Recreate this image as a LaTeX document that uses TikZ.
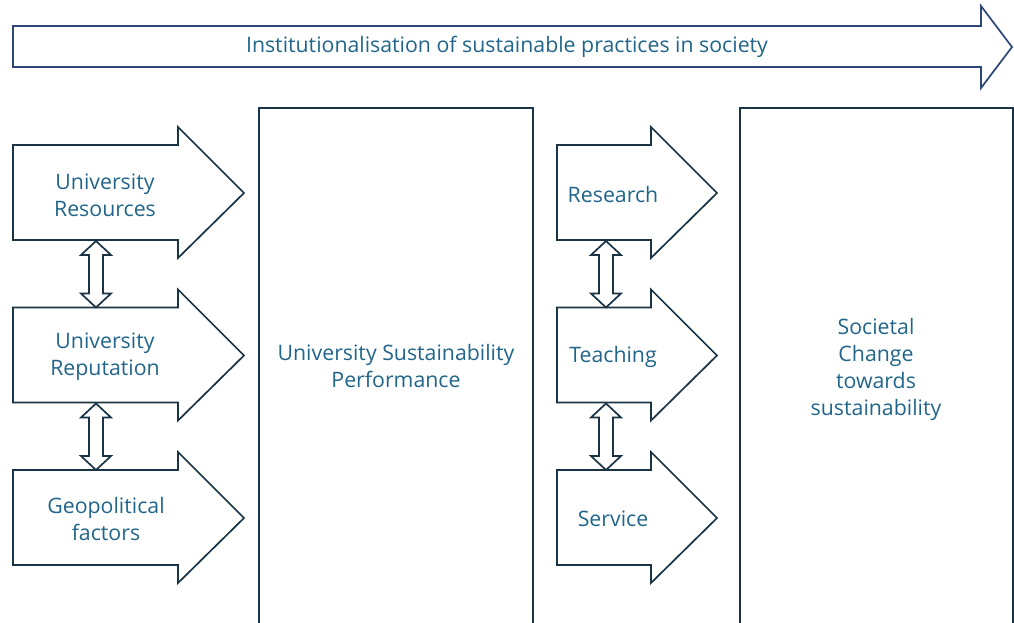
\documentclass[tikz,border=0pt]{standalone}
\usepackage{fontspec}
\setmainfont{Open Sans}
\usetikzlibrary{calc}
\definecolor{edge}{HTML}{1B3445}
\definecolor{topedge}{HTML}{2C4778}
\definecolor{label}{HTML}{21668A}
\tikzset{
  blockline/.style={draw=edge, line width=1.7pt, fill=white, line join=miter},
  lbl/.style={text=label, font=\fontsize{21.3}{27}\selectfont, align=center, inner sep=0pt},
}
% block arrow: name, left x, body right x, tip x, top y of body
\newcommand\blockarr[5]{%
  \draw[blockline] (#2,#5) -- (#3,#5) -- (#3,#5-18) -- (#4,#5+48)
    -- (#3,#5+113) -- (#3,#5+95) -- (#2,#5+95) -- cycle;
}
% hollow two-headed connector between two named points (top, bottom)
\newcommand\linkarr[2]{%
  \draw[blockline] (#1) -- ($(#1)+(15,14)$) -- ($(#1)+(7,14)$) -- ($(#2)+(7,-14)$)
    -- ($(#2)+(15,-14)$) -- (#2) -- ($(#2)+(-15,-14)$) -- ($(#2)+(-7,-14)$)
    -- ($(#1)+(-7,14)$) -- ($(#1)+(-15,14)$) -- cycle;
}
\begin{document}
\begin{tikzpicture}[x=1pt,y=-1pt]
\useasboundingbox (0,0) rectangle (1014,623);
\clip (0,0) rectangle (1014,623);

% long arrow across the top
\draw[draw=topedge, line width=1.7pt, fill=white, line join=miter]
  (13,26) -- (981,26) -- (981,6) -- (1012,47) -- (981,88) -- (981,67) -- (13,67) -- cycle;
\node[lbl] (inst) at (507,47) {Institutionalisation of sustainable practices in society};

% central boxes
\draw[blockline] (259,108) rectangle (533,640);
\node[lbl] (usp) at (396,366) {University Sustainability\\Performance};
\draw[blockline] (740,108) rectangle (1013,640);
\node[lbl] (soc) at (876,369) {Societal\\Change\\towards\\sustainability};

% drivers on the left
\blockarr{res}{13}{178}{244}{145}
\blockarr{rep}{13}{178}{244}{307.5}
\blockarr{geo}{13}{178}{244}{470}
\node[lbl] (resl) at (105,195) {University\\Resources};
\node[lbl] (repl) at (105,357) {University\\Reputation};
\node[lbl] (geol) at (106,519) {Geopolitical\\factors};

\coordinate (res-b) at (96,241);
\coordinate (rep-t) at (96,307.5);
\coordinate (rep-b) at (96,403.5);
\coordinate (geo-t) at (96,470);
\linkarr{res-b}{rep-t}
\linkarr{rep-b}{geo-t}

% university activities
\blockarr{rsr}{557}{651}{717}{145}
\blockarr{tch}{557}{651}{717}{307.5}
\blockarr{srv}{557}{651}{717}{470}
\node[lbl] (rsrl) at (613,195) {Research};
\node[lbl] (tchl) at (613,357) {Teaching};
\node[lbl] (srvl) at (613,519) {Service};

\coordinate (rsr-b) at (606,241);
\coordinate (tch-t) at (606,307.5);
\coordinate (tch-b) at (606,403.5);
\coordinate (srv-t) at (606,470);
\linkarr{rsr-b}{tch-t}
\linkarr{tch-b}{srv-t}
\end{tikzpicture}
\end{document}
